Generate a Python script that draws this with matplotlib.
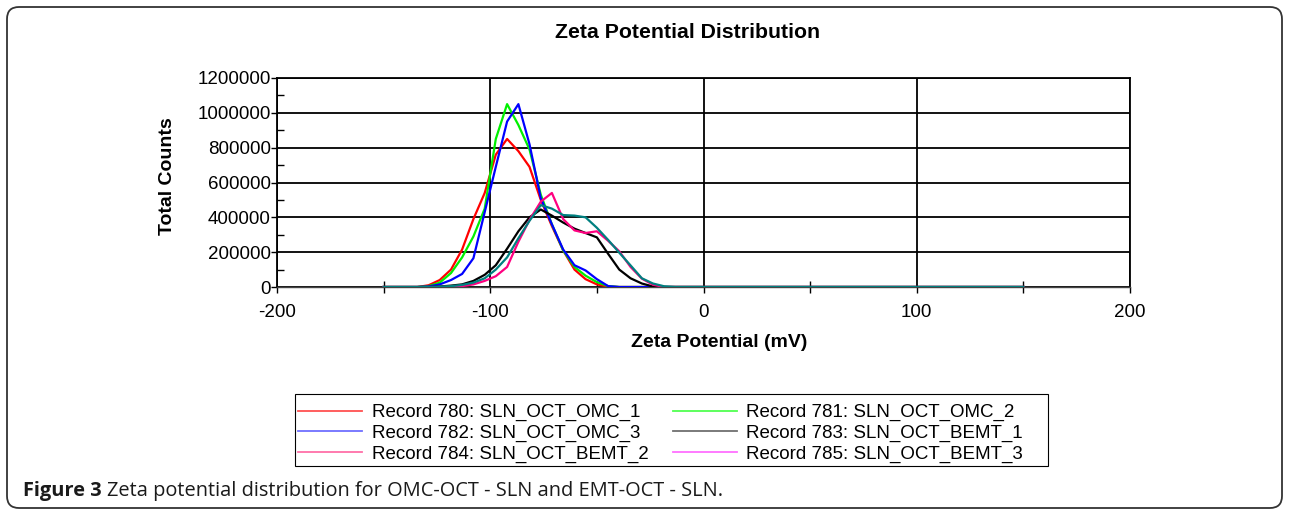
import matplotlib
matplotlib.use("Agg")
import matplotlib.pyplot as plt
from matplotlib.lines import Line2D
from matplotlib.patches import FancyBboxPatch, Rectangle
from matplotlib.ticker import MultipleLocator, FuncFormatter
from matplotlib.transforms import IdentityTransform

plt.rcParams['font.family'] = ['Liberation Sans', 'DejaVu Sans']
plt.rcParams['axes.unicode_minus'] = False

# zeta potential (mV) sample points
zeta_mv = [-150.0, -134.2, -128.9, -123.7, -118.4, -113.2, -107.9, -102.6,
           -97.4, -92.1, -86.8, -81.6, -76.3, -71.1, -65.8, -60.5, -55.3,
           -50.0, -44.7, -39.5, -34.2, -28.9, -23.7, -18.4, -13.2, 150.0]

# total counts per record
rec_780 = [0, 0, 10000, 40000, 100000, 215000, 390000, 540000,
           760000, 850000, 780000, 690000, 500000, 350000, 210000, 100000, 45000,
           15000, 3000, 0, 0, 0, 0, 0, 0, 0]
rec_781 = [0, 0, 5000, 25000, 80000, 170000, 290000, 450000,
           850000, 1050000, 930000, 790000, 530000, 360000, 210000, 115000, 65000,
           28000, 5000, 0, 0, 0, 0, 0, 0, 0]
rec_782 = [0, 0, 3000, 15000, 40000, 75000, 165000, 430000,
           690000, 950000, 1050000, 820000, 510000, 360000, 215000, 125000, 95000,
           45000, 5000, 0, 0, 0, 0, 0, 0, 0]
rec_783 = [0, 0, 0, 3000, 8000, 15000, 35000, 70000,
           125000, 220000, 320000, 400000, 445000, 410000, 370000, 335000, 310000,
           285000, 190000, 100000, 50000, 20000, 3000, 0, 0, 0]
rec_784 = [0, 0, 0, 0, 2000, 5000, 15000, 35000,
           62000, 115000, 260000, 385000, 490000, 540000, 390000, 325000, 310000,
           320000, 265000, 205000, 115000, 48000, 13000, 0, 0, 0]
rec_785 = [0, 0, 0, 2000, 5000, 12000, 25000, 50000,
           100000, 170000, 280000, 380000, 470000, 450000, 413000, 410000, 400000,
           340000, 270000, 197000, 124000, 50000, 20000, 4000, 0, 0]

records = [rec_780, rec_781, rec_782, rec_783, rec_784, rec_785]
labels = ["Record 780: SLN_OCT_OMC_1", "Record 781: SLN_OCT_OMC_2",
          "Record 782: SLN_OCT_OMC_3", "Record 783: SLN_OCT_BEMT_1",
          "Record 784: SLN_OCT_BEMT_2", "Record 785: SLN_OCT_BEMT_3"]
line_colors = ["#ff0000", "#00f000", "#0000ff", "#000000", "#ff0080", "#008080"]
legend_colors = ["#ff5050", "#50ff50", "#7070ff", "#707070", "#ff70a8", "#ff70ff"]

W, H = 1289, 514
fig = plt.figure(figsize=(W / 100, H / 100), dpi=100)
ax = fig.add_axes([277 / W, 1 - 287 / H, 853 / W, 209 / H])

for vals, col in zip(records, line_colors):
    ax.plot(zeta_mv, vals, color=col, lw=1.6, zorder=3)

ax.set_xlim(-200, 200)
ax.set_ylim(0, 1200000)
ax.xaxis.set_major_locator(MultipleLocator(100))
ax.xaxis.set_minor_locator(MultipleLocator(50))
ax.yaxis.set_major_locator(MultipleLocator(200000))
ax.yaxis.set_minor_locator(MultipleLocator(100000))
ax.yaxis.set_major_formatter(FuncFormatter(lambda v, p: "%d" % v))
ax.grid(True, which='major', color='black', lw=1.3, zorder=1)
for s in ax.spines.values():
    s.set_color('black')
    s.set_linewidth(1.3)
ax.spines['bottom'].set_linewidth(1.0)
ax.spines['bottom'].set_color('#444444')

ax.tick_params(axis='both', which='major', labelsize=13.5, colors='black',
               direction='out', length=4, width=1)
ax.tick_params(axis='y', which='major', pad=0.5)
ax.tick_params(axis='x', which='major', pad=8)
ax.tick_params(axis='x', which='minor', direction='inout', length=8, width=1)
ax.tick_params(axis='y', which='minor', direction='in', length=5, width=1)

ax.set_xlabel("Zeta Potential (mV)", fontsize=14, fontweight='bold')
ax.xaxis.set_label_coords(0.518, -0.225)
ax.set_ylabel("Total Counts", fontsize=14, fontweight='bold')
ax.yaxis.set_label_coords(-0.118, 0.53)

fig.text(688 / W, 1 - 32 / H, "Zeta Potential Distribution",
         fontsize=15.3, fontweight='bold', ha='center', va='center')

# legend: thin handles, two columns, separate frame
handles = [Line2D([], [], color=c, lw=1.3) for c in legend_colors]
order = [0, 2, 4, 1, 3, 5]
leg = ax.legend([handles[i] for i in order], [labels[i] for i in order],
                ncol=2, loc='upper left', bbox_to_anchor=(298 / W, 1 - 404 / H),
                bbox_transform=fig.transFigure, fontsize=13.5, frameon=False,
                handlelength=3.4, handletextpad=0.53, columnspacing=1.3,
                labelspacing=0.18, borderpad=0, borderaxespad=0)
fig.patches.append(Rectangle((295, H - 466), 753, 72, transform=IdentityTransform(),
                             fill=False, edgecolor='black', lw=0.8))

# rounded border around the whole figure
fig.patches.append(FancyBboxPatch((7, 6), 1275, 501,
                                  boxstyle="round,pad=0,rounding_size=12",
                                  transform=IdentityTransform(), fill=False,
                                  edgecolor='#333333', lw=1.3))

cap1 = fig.text(23 / W, 1 - 491 / H, "Figure 3", family='Open Sans',
                fontsize=14.4, fontweight='bold', color='#1a1a1a', va='center')
bb = cap1.get_window_extent(fig.canvas.get_renderer())
fig.text((bb.x1 + 5) / W, 1 - 491 / H,
         "Zeta potential distribution for OMC-OCT - SLN and EMT-OCT - SLN.",
         family='Open Sans', fontsize=14.4, color='#1a1a1a', va='center')

fig.savefig("out.png", dpi=100)
